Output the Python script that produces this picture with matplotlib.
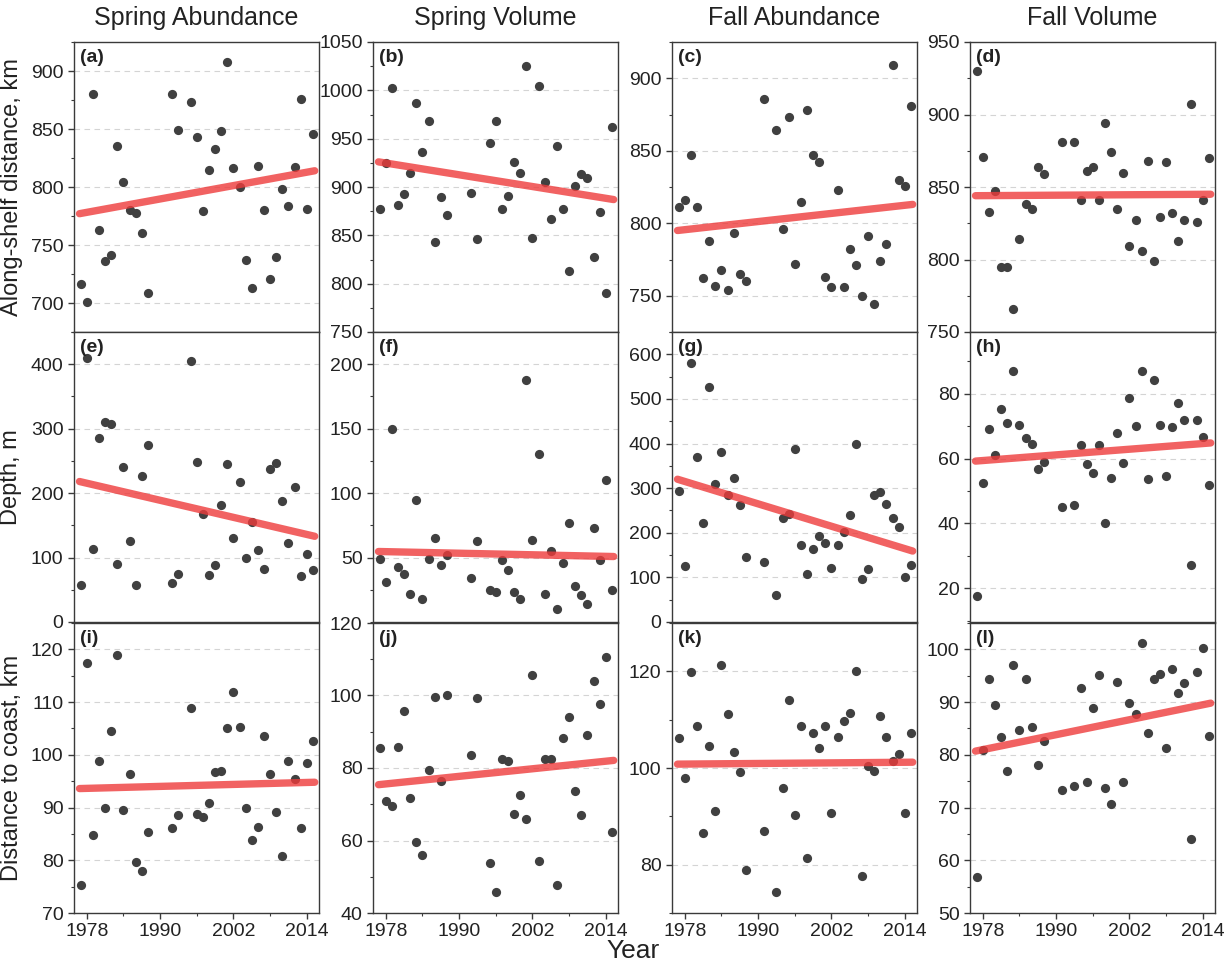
import matplotlib
matplotlib.use('Agg')
import matplotlib.pyplot as plt
from matplotlib.ticker import MultipleLocator, FixedLocator

plt.rcParams['font.family'] = ['Liberation Sans', 'DejaVu Sans']

# survey years (spring has no 1989-1991, 1994; fall has no 1989-1990, 1992)
years_spring = [1977, 1978, 1979, 1980, 1981, 1982, 1983, 1984, 1985, 1986, 1987, 1988,
                1992, 1993, 1995, 1996, 1997, 1998, 1999, 2000, 2001, 2002, 2003, 2004,
                2005, 2006, 2007, 2008, 2009, 2010, 2011, 2012, 2013, 2014, 2015]
years_fall = [1977, 1978, 1979, 1980, 1981, 1982, 1983, 1984, 1985, 1986, 1987, 1988,
              1991, 1993, 1994, 1995, 1996, 1997, 1998, 1999, 2000, 2001, 2002, 2003,
              2004, 2005, 2006, 2007, 2008, 2009, 2010, 2011, 2012, 2013, 2014, 2015]

# along-shelf distance, km
a_vals = [716, 701, 880, 763, 736, 741, 835, 804, 780, 778, 760, 709, 880, 849, 873, 843, 779, 815,
          833, 848, 908, 816, 800, 737, 713, 818, 780, 721, 740, 798, 784, 817, 876, 781, 846]
b_vals = [877, 925, 1002, 881, 893, 915, 987, 936, 968, 843, 890, 871, 894, 846, 946, 968, 877, 891,
          926, 914, 1025, 847, 1004, 905, 867, 942, 877, 813, 901, 913, 909, 828, 874, 790, 962]
c_vals = [811, 816, 847, 811, 762, 788, 757, 768, 754, 793, 765, 760, 886, 864, 796, 873, 772, 815,
          878, 847, 842, 763, 756, 823, 756, 782, 771, 750, 791, 744, 774, 786, 909, 830, 826, 881]
d_vals = [930, 871, 833, 847, 795, 795, 766, 814, 838, 835, 864, 859, 881, 881, 841, 861, 864, 841,
          894, 874, 835, 860, 809, 827, 806, 868, 799, 829, 867, 832, 813, 827, 907, 826, 841, 870]
# depth, m
e_vals = [58, 410, 113, 286, 310, 308, 90, 241, 126, 58, 227, 274, 60, 74, 405, 248, 168, 73,
          89, 182, 245, 130, 218, 99, 155, 112, 83, 238, 246, 188, 123, 209, 72, 106, 81]
f_vals = [49, 31, 150, 43, 37, 22, 95, 18, 49, 65, 44, 52, 34, 63, 25, 23, 48, 40,
          23, 18, 188, 64, 130, 22, 55, 10, 46, 77, 28, 21, 14, 73, 48, 110, 25]
g_vals = [294, 125, 581, 370, 221, 526, 309, 382, 285, 322, 262, 146, 135, 60, 233, 242, 388, 172,
          107, 164, 193, 177, 121, 172, 201, 240, 400, 96, 119, 284, 291, 265, 233, 212, 100, 128]
h_vals = [17.7, 52.6, 69, 61, 75.3, 70.9, 86.9, 70.2, 66.3, 64.6, 56.8, 58.9, 45.2, 45.6, 64.1, 58.3,
          55.5, 64.3, 40, 53.9, 67.9, 58.6, 78.8, 70, 86.9, 53.6, 84.3, 70.4, 54.6, 69.8, 77.1, 71.9,
          27.2, 71.9, 66.7, 51.8]
# distance to coast, km
i_vals = [75.3, 117.4, 84.7, 98.8, 89.9, 104.5, 118.9, 89.6, 96.4, 79.6, 78, 85.4, 86.1, 88.5, 108.9,
          88.7, 88.3, 90.9, 96.7, 97, 105.1, 111.9, 105.3, 89.9, 83.8, 86.4, 103.6, 96.3, 89.1, 80.9,
          98.9, 95.5, 86.2, 98.5, 102.7]
j_vals = [85.6, 70.8, 69.4, 85.9, 95.6, 71.6, 59.6, 56.1, 79.5, 99.7, 76.4, 100, 83.6, 99.2, 53.9,
          45.8, 82.4, 81.9, 67.4, 72.5, 65.9, 105.7, 54.3, 82.4, 82.4, 47.8, 88.2, 94.2, 73.7, 66.9,
          89, 104, 97.7, 110.7, 62.4]
k_vals = [106.2, 97.9, 119.8, 108.6, 86.5, 104.6, 91.1, 121.3, 111.2, 103.4, 99.2, 78.9, 87, 74.3,
          95.8, 114.1, 90.3, 108.6, 81.4, 107.3, 104.2, 108.6, 90.7, 106.5, 109.7, 111.4, 120.1, 77.7,
          100.5, 99.4, 110.7, 106.4, 101.5, 102.9, 90.6, 107.3]
l_vals = [56.8, 80.9, 94.3, 89.4, 83.3, 77, 97, 84.8, 94.4, 85.2, 78.1, 82.6, 73.3, 74.1, 92.7, 74.8,
          88.9, 95.1, 73.7, 70.6, 93.9, 74.8, 89.8, 87.7, 101.3, 84.2, 94.4, 95.3, 81.3, 96.2, 91.8,
          93.7, 64, 95.8, 100.3, 83.6]

# trend line values at start / end of record
trend_x = [1976.8, 2015.3]
trend_start = [777, 926, 795, 844, 218, 54.7, 320, 59.2, 93.6, 75.4, 100.8, 80.7]
trend_end = [814, 887, 813, 845, 133, 50.8, 159, 64.8, 94.8, 82.1, 101.2, 89.8]

col_titles = ['Spring Abundance', 'Spring Volume', 'Fall Abundance', 'Fall Volume']
row_labels = ['Along-shelf distance, km', 'Depth, m', 'Distance to coast, km']
letters = ['a', 'b', 'c', 'd', 'e', 'f', 'g', 'h', 'i', 'j', 'k', 'l']

values = [a_vals, b_vals, c_vals, d_vals, e_vals, f_vals, g_vals, h_vals,
          i_vals, j_vals, k_vals, l_vals]
ylims = [(675, 925), (750, 1050), (725, 925), (750, 950),
         (0, 450), (0, 225), (0, 650), (9.6, 99),
         (70, 125), (40, 120), (70, 130), (50, 105)]
yticks = [[700, 750, 800, 850, 900], [750, 800, 850, 900, 950, 1000, 1050],
          [750, 800, 850, 900], [750, 800, 850, 900, 950],
          [0, 100, 200, 300, 400], [50, 100, 150, 200], [0, 100, 200, 300, 400, 500, 600],
          [20, 40, 60, 80],
          [70, 80, 90, 100, 110, 120], [40, 60, 80, 100, 120], [80, 100, 120],
          [50, 60, 70, 80, 90, 100]]
yminor = [25, 25, 25, 25, 50, 25, 50, 10, 5, 10, 10, 5]

W, H = 1229, 967
lefts = [74, 373, 672, 970]
tops = [42, 332, 623]
aw, ah = 245, 290

fig = plt.figure(figsize=(W / 100, H / 100), dpi=100)

for n in range(12):
    r, c = n // 4, n % 4
    ax = fig.add_axes([lefts[c] / W, 1 - (tops[r] + ah) / H, aw / W, ah / H])
    yrs = years_spring if c < 2 else years_fall
    ax.scatter(yrs, values[n], s=44, color='#404040', zorder=3, linewidths=0)
    ax.plot(trend_x, [trend_start[n], trend_end[n]], color='#ee3b3b', lw=5.3, alpha=0.8,
            solid_capstyle='round', zorder=4)
    ax.set_xlim(1975.9, 2016)
    ax.set_ylim(*ylims[n])
    ax.xaxis.set_major_locator(FixedLocator([1978, 1990, 2002, 2014]))
    ax.xaxis.set_minor_locator(FixedLocator([1984, 1996, 2008]))
    ax.yaxis.set_major_locator(FixedLocator(yticks[n]))
    ax.yaxis.set_minor_locator(MultipleLocator(yminor[n]))
    ax.yaxis.grid(True, which='major', linestyle=(0, (5, 4)), color='#d4d4d4', lw=0.8)
    ax.set_axisbelow(True)
    for sp in ax.spines.values():
        sp.set_color('#3a3a3a')
        sp.set_linewidth(1.0)
    ax.tick_params(which='both', direction='out', top=False, right=False, color='#3a3a3a',
                   labelsize=14, labelcolor='#222222', pad=3)
    ax.tick_params(which='major', length=4.5, width=1.0)
    ax.tick_params(which='minor', length=2.5, width=0.8)
    if r < 2:
        ax.tick_params(labelbottom=False)
    ax.text(0.025, 0.975, '(' + letters[n] + ')', transform=ax.transAxes, ha='left', va='top',
            fontsize=14, fontweight='bold', color='#222222')
    if c == 0:
        ax.set_ylabel(row_labels[r], fontsize=17, color='#222222', labelpad=6)
    if r == 0:
        fig.text((lefts[c] + aw / 2) / W, 0.981, col_titles[c], ha='center', va='center',
                 fontsize=18, color='#222222')

fig.text(0.515, 0.0165, 'Year', ha='center', va='center', fontsize=19, color='#222222')

fig.savefig('out.png', dpi=100)
